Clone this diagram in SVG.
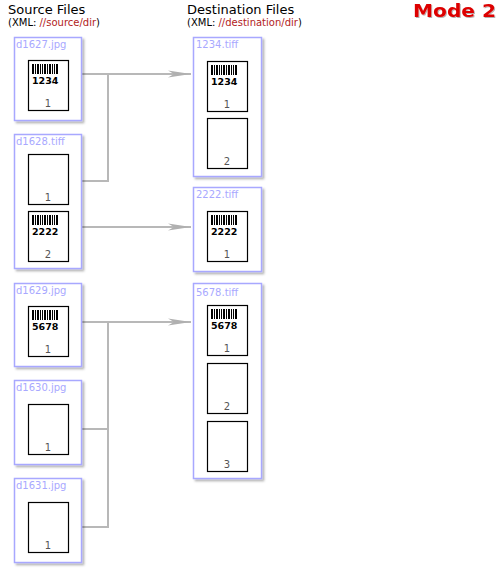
<svg xmlns="http://www.w3.org/2000/svg" xmlns:xlink="http://www.w3.org/1999/xlink" width="500" height="570" viewBox="0 0 500 570">
<style>
text{font-family:"DejaVu Sans",Verdana,sans-serif}
.hdr{font-size:13px;fill:#000}
.sub{font-size:10px;fill:#000}
.path{fill:#b22222}
.box{fill:#fff;stroke:#a8a8ff;stroke-width:1.5;filter:url(#sh)}
.lbl{font-size:10px;fill:#a8a8ff}
.page{fill:#fff;stroke:#000;stroke-width:1.2}
.pn{font-size:10px;fill:#555;text-anchor:middle}
.bc{font-size:9.5px;font-weight:bold;fill:#000}
.conn{fill:none;stroke:#b8b8b8;stroke-width:2}
.mode{font-size:18px;font-weight:bold;fill:#dd0000;filter:url(#tsh)}
</style>
<defs>
<filter id="sh" x="-10%" y="-10%" width="130%" height="130%">
<feDropShadow dx="2" dy="2" stdDeviation="1.2" flood-color="#000" flood-opacity="0.3"/>
</filter>
<filter id="tsh" x="-10%" y="-20%" width="130%" height="150%">
<feDropShadow dx="1" dy="1" stdDeviation="0.6" flood-color="#000" flood-opacity="0.3"/>
</filter>
<marker id="arr" viewBox="0 0 24 8" refX="23" refY="4" markerWidth="24" markerHeight="8" markerUnits="userSpaceOnUse" orient="auto">
<path d="M0,0.5 L23,4 L0,7.5 L6,4 Z" fill="#b0b0b0"/>
</marker>
<g id="bars" fill="#000">
<rect x="0" y="0" width="2" height="10"/><rect x="3" y="0" width="1" height="10"/><rect x="5" y="0" width="2" height="10"/><rect x="8" y="0" width="1" height="10"/><rect x="10" y="0" width="1" height="10"/><rect x="12" y="0" width="2" height="10"/><rect x="15" y="0" width="1" height="10"/><rect x="17" y="0" width="2" height="10"/><rect x="20" y="0" width="1" height="10"/><rect x="22" y="0" width="1" height="10"/><rect x="24" y="0" width="2" height="10"/>
</g>
</defs>
<rect width="500" height="570" fill="#fff"/>

<g id="headers">
<text class="hdr" x="8" y="14">Source Files</text>
<text class="sub" x="8" y="26">(XML: <tspan class="path">//source/dir</tspan>)</text>
<text class="hdr" x="187" y="14">Destination Files</text>
<text class="sub" x="187" y="26">(XML: <tspan class="path">//destination/dir</tspan>)</text>
<text class="mode" x="413" y="17" textLength="83" lengthAdjust="spacingAndGlyphs">Mode 2</text>
</g>

<g id="connectors">
<path class="conn" d="M68,181 H108 V74"/>
<path class="conn" d="M68,74 H191" marker-end="url(#arr)"/>
<path class="conn" d="M68,227 H191" marker-end="url(#arr)"/>
<path class="conn" d="M68,429 H108"/>
<path class="conn" d="M68,527 H108 V322"/>
<path class="conn" d="M68,322 H191" marker-end="url(#arr)"/>
</g>

<g id="src-d1627">
<rect class="box" x="14.5" y="37.5" width="67" height="83"/>
<text class="lbl" x="16" y="48">d1627.jpg</text>
<rect class="page" x="28.5" y="60.5" width="40" height="50"/>
<use xlink:href="#bars" x="32" y="64"/>
<text class="bc" x="32" y="84">1234</text>
<text class="pn" x="48" y="107">1</text>
</g>

<g id="src-d1628">
<rect class="box" x="14.5" y="134.5" width="67" height="134"/>
<text class="lbl" x="16" y="145">d1628.tiff</text>
<rect class="page" x="28.5" y="154.5" width="40" height="50"/>
<text class="pn" x="48" y="201">1</text>
<rect class="page" x="28.5" y="211.5" width="40" height="50"/>
<use xlink:href="#bars" x="32" y="215"/>
<text class="bc" x="32" y="235">2222</text>
<text class="pn" x="48" y="258">2</text>
</g>

<g id="src-d1629">
<rect class="box" x="14.5" y="283.5" width="67" height="83"/>
<text class="lbl" x="16" y="294">d1629.jpg</text>
<rect class="page" x="28.5" y="306.5" width="40" height="50"/>
<use xlink:href="#bars" x="32" y="310"/>
<text class="bc" x="32" y="330">5678</text>
<text class="pn" x="48" y="353">1</text>
</g>

<g id="src-d1630">
<rect class="box" x="14.5" y="380.5" width="67" height="84"/>
<text class="lbl" x="16" y="391">d1630.jpg</text>
<rect class="page" x="28.5" y="404.5" width="40" height="50"/>
<text class="pn" x="48" y="451">1</text>
</g>

<g id="src-d1631">
<rect class="box" x="14.5" y="478.5" width="67" height="84"/>
<text class="lbl" x="16" y="489">d1631.jpg</text>
<rect class="page" x="28.5" y="502.5" width="40" height="50"/>
<text class="pn" x="48" y="549">1</text>
</g>

<g id="dst-1234">
<rect class="box" x="193.5" y="37.5" width="68" height="139"/>
<text class="lbl" x="196" y="48">1234.tiff</text>
<rect class="page" x="207.5" y="61.5" width="40" height="50"/>
<use xlink:href="#bars" x="211" y="65"/>
<text class="bc" x="211" y="85">1234</text>
<text class="pn" x="227" y="108">1</text>
<rect class="page" x="207.5" y="118.5" width="40" height="50"/>
<text class="pn" x="227" y="165">2</text>
</g>

<g id="dst-2222">
<rect class="box" x="193.5" y="187.5" width="68" height="84"/>
<text class="lbl" x="196" y="198">2222.tiff</text>
<rect class="page" x="207.5" y="211.5" width="40" height="50"/>
<use xlink:href="#bars" x="211" y="215"/>
<text class="bc" x="211" y="235">2222</text>
<text class="pn" x="227" y="258">1</text>
</g>

<g id="dst-5678">
<rect class="box" x="193.5" y="283.5" width="68" height="195"/>
<text class="lbl" x="196" y="296">5678.tiff</text>
<rect class="page" x="207.5" y="305.5" width="40" height="50"/>
<use xlink:href="#bars" x="211" y="309"/>
<text class="bc" x="211" y="329">5678</text>
<text class="pn" x="227" y="352">1</text>
<rect class="page" x="207.5" y="363.5" width="40" height="50"/>
<text class="pn" x="227" y="410">2</text>
<rect class="page" x="207.5" y="421.5" width="40" height="50"/>
<text class="pn" x="227" y="468">3</text>
</g>
</svg>
